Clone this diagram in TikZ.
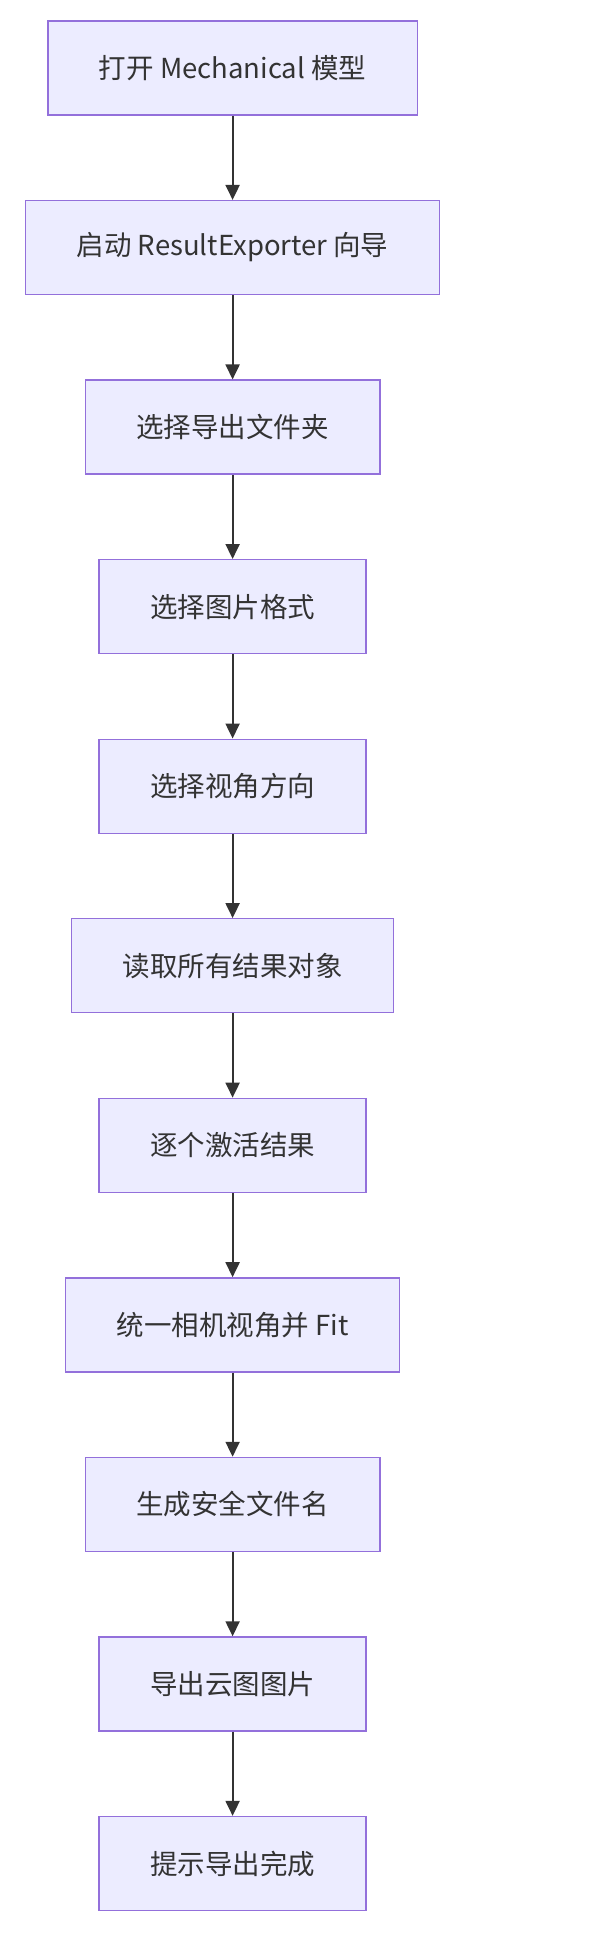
\documentclass[tikz,border=0pt]{standalone}
\usepackage{fontspec}
\setmainfont{Noto Sans CJK SC}
\usetikzlibrary{arrows.meta}
\definecolor{boxfill}{HTML}{ECECFF}
\definecolor{boxline}{HTML}{9370DB}
\definecolor{arrowline}{HTML}{333333}
\tikzset{
  stepbox/.style={draw=boxline, fill=boxfill, line width=1.3pt, inner xsep=51pt, inner ysep=0pt,
    minimum height=94pt, text=arrowline, font=\fontsize{27.5}{33}\selectfont},
  flow/.style={draw=arrowline, line width=2pt, -{Triangle[length=15pt,width=14pt]}}
}
\begin{document}
\begin{tikzpicture}[x=1pt,y=1pt]
      \useasboundingbox (0,0) rectangle (608,-1938);
      \foreach \txt [count=\i] in {打开 Mechanical 模型, 启动 ResultExporter 向导, 选择导出文件夹,
          选择图片格式, 选择视角方向, 读取所有结果对象, 逐个激活结果, 统一相机视角并 Fit,
          生成安全文件名, 导出云图图片, 提示导出完成}
        \node[stepbox] (n\i) at (232.6,{-68-179.55*(\i-1)}) {\txt};
      \foreach \i [evaluate=\i as \j using int(\i+1)] in {1,...,10}
        \draw[flow] (n\i) -- (n\j);
    \end{tikzpicture}
\end{document}
